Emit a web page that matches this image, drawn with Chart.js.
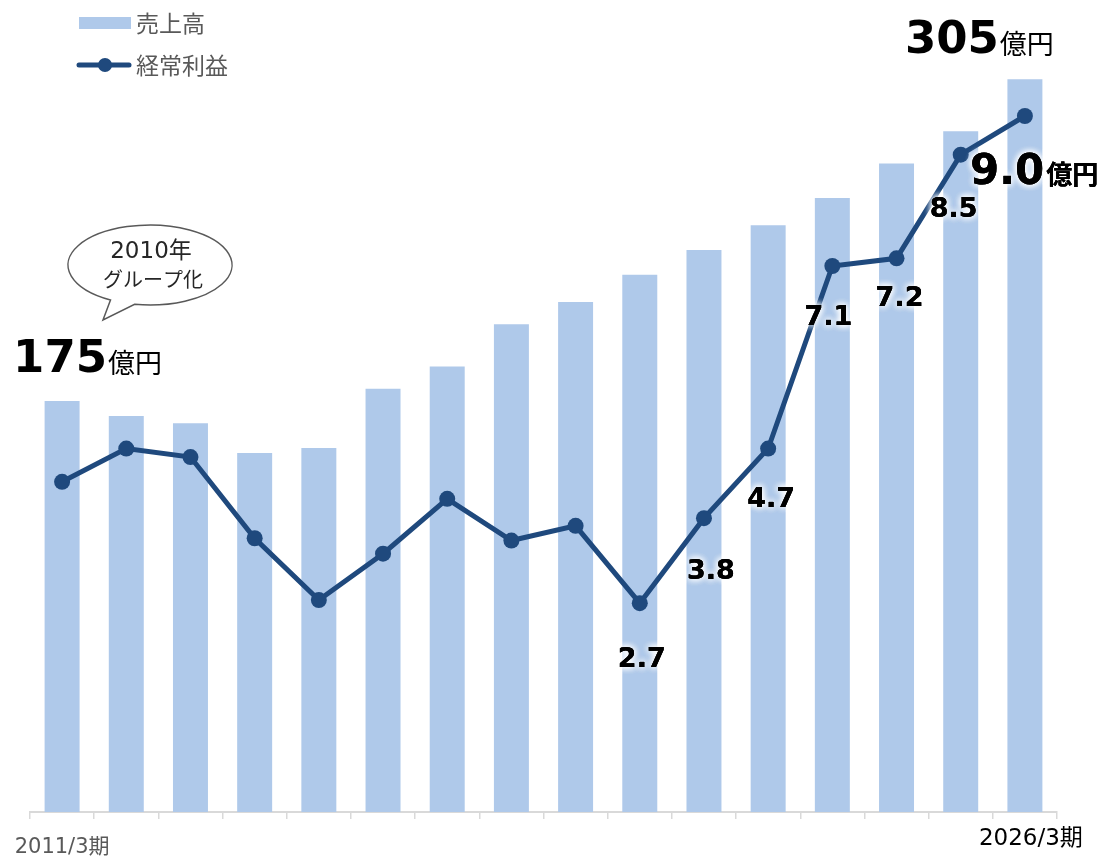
<!DOCTYPE html>
<html lang="ja">
<head>
<meta charset="utf-8">
<title>売上高・経常利益</title>
<script src="https://cdn.jsdelivr.net/npm/chart.js@4/dist/chart.umd.min.js"></script>
<style>
  html, body { margin: 0; padding: 0; background: #fff; }
  canvas { display: block; }
</style>
</head>
<body>
<canvas id="chart" width="1101" height="857"></canvas>
<script>
const periods = ["2011/3期", "2012/3期", "2013/3期", "2014/3期", "2015/3期", "2016/3期", "2017/3期", "2018/3期",
  "2019/3期", "2020/3期", "2021/3期", "2022/3期", "2023/3期", "2024/3期", "2025/3期", "2026/3期"];
const sales = [175, 169, 166, 154, 156, 180, 189, 206, 215, 226, 236, 246, 257, 271, 284, 305];
const profit = [4.27, 4.7, 4.59, 3.54, 2.74, 3.34, 4.05, 3.51, 3.7, 2.7, 3.8, 4.7, 7.06, 7.16, 8.5, 9.0];
const labelled = [9, 10, 11, 12, 13, 14]; // points with a small value label
const seriesNames = ["売上高", "経常利益"];

const barColor = "#afc9ea";
const lineColor = "#1f497d";
const jpFont = '"DejaVu Sans", "Noto Sans CJK JP", sans-serif';
const cjk = '"Noto Sans CJK JP", sans-serif';

// small offsets of the value labels from their points (dx, dy to baseline)
const labelShift = { 9: [2, 64], 10: [7, 61], 11: [3, 58], 12: [-4, 59], 13: [3, 48], 14: [-7, 62] };

function glowText(ctx, text, x, y) {
  ctx.save();
  ctx.shadowColor = "rgba(255,255,255,1)";
  ctx.shadowBlur = 7;
  ctx.fillStyle = "#000";
  for (let i = 0; i < 3; i++) ctx.fillText(text, x, y);
  ctx.restore();
  ctx.fillText(text, x, y);
}

const annotations = {
  id: "annotations",
  afterDatasetsDraw(chart) {
    const ctx = chart.ctx;
    const x = chart.scales.x;
    const lineMeta = chart.getDatasetMeta(0);
    const barMeta = chart.getDatasetMeta(1);

    // value labels on the profit line
    ctx.save();
    ctx.textAlign = "center";
    ctx.textBaseline = "alphabetic";
    ctx.font = "bold 27px " + jpFont;
    labelled.forEach(i => {
      const p = lineMeta.data[i];
      const s = labelShift[i];
      glowText(ctx, profit[i].toFixed(1), p.x + s[0], p.y + s[1]);
    });

    // last value with unit
    const last = profit.length - 1;
    const pl = lineMeta.data[last];
    ctx.textAlign = "left";
    ctx.font = "bold 42px " + jpFont;
    const numTxt = profit[last].toFixed(1);
    glowText(ctx, numTxt, pl.x - 55, pl.y + 68);
    const w = ctx.measureText(numTxt).width;
    ctx.font = "bold 26px " + cjk;
    glowText(ctx, "億円", pl.x - 55 + w + 2, pl.y + 68);
    ctx.restore();

    // sales first / last
    ctx.save();
    ctx.fillStyle = "#000";
    ctx.textAlign = "left";
    const b0 = barMeta.data[0];
    const bl = barMeta.data[sales.length - 1];
    [[b0, sales[0], -49, -29], [bl, sales[sales.length - 1], -120, -26]].forEach(([b, v, dx, dy]) => {
      ctx.font = "bold 45px " + jpFont;
      const t = String(v);
      ctx.fillText(t, b.x + dx, b.y + dy);
      const tw = ctx.measureText(t).width;
      ctx.font = "27px " + cjk;
      ctx.fillText("億円", b.x + dx + tw + 1, b.y + dy + 1);
    });
    ctx.restore();

    // speech bubble
    ctx.save();
    const cx = 150, cy = 265;
    ctx.fillStyle = "#fff";
    ctx.strokeStyle = "#595959";
    ctx.lineWidth = 1.5;
    ctx.beginPath();
    const a1 = Math.PI * 0.56, a2 = Math.PI * 0.66;
    ctx.ellipse(cx, cy, 82, 40, 0, a2, a1 + Math.PI * 2, false);
    ctx.lineTo(103, 320);
    ctx.closePath();
    ctx.fill();
    ctx.stroke();
    ctx.fillStyle = "#262626";
    ctx.textAlign = "center";
    ctx.font = "23px " + jpFont;
    ctx.fillText("2010年", cx + 1, 258);
    ctx.font = "20px " + cjk;
    ctx.fillText("グループ化", cx + 3, 287);
    ctx.restore();

    // category labels at both ends
    ctx.save();
    ctx.textAlign = "center";
    ctx.font = "21px " + jpFont;
    ctx.fillStyle = "#595959";
    ctx.fillText(periods[0], x.getPixelForValue(0), 853);
    ctx.font = "23px " + jpFont;
    ctx.fillStyle = "#000";
    ctx.fillText(periods[periods.length - 1], x.getPixelForValue(periods.length - 1) + 6, 845);
    ctx.restore();

    // legend
    ctx.save();
    ctx.fillStyle = barColor;
    ctx.fillRect(79, 17, 52, 12);
    ctx.strokeStyle = lineColor;
    ctx.lineWidth = 5;
    ctx.lineCap = "round";
    ctx.beginPath();
    ctx.moveTo(79, 65);
    ctx.lineTo(129, 65);
    ctx.stroke();
    ctx.fillStyle = lineColor;
    ctx.beginPath();
    ctx.arc(105, 65, 7, 0, Math.PI * 2);
    ctx.fill();
    ctx.fillStyle = "#595959";
    ctx.font = "23px " + cjk;
    ctx.textBaseline = "middle";
    ctx.textAlign = "left";
    ctx.fillText(seriesNames[0], 136, 23);
    ctx.fillText(seriesNames[1], 136, 65);
    ctx.restore();
  }
};

new Chart(document.getElementById("chart"), {
  data: {
    labels: periods,
    datasets: [
      {
        type: "line",
        label: seriesNames[1],
        data: profit,
        yAxisID: "y1",
        borderColor: lineColor,
        backgroundColor: lineColor,
        borderWidth: 5,
        pointRadius: 8,
        pointBackgroundColor: lineColor,
        pointBorderWidth: 0,
        tension: 0,
        order: 0
      },
      {
        type: "bar",
        label: seriesNames[0],
        data: sales,
        yAxisID: "y",
        backgroundColor: barColor,
        categoryPercentage: 1,
        barPercentage: 0.545,
        order: 1
      }
    ]
  },
  options: {
    responsive: false,
    animation: false,
    layout: { autoPadding: false, padding: { left: 30, right: 44, top: 0, bottom: 38 } },
    plugins: {
      legend: { display: false },
      tooltip: { enabled: false }
    },
    scales: {
      x: {
        grid: {
          display: true,
          drawOnChartArea: false,
          drawTicks: true,
          tickLength: 7,
          color: "#d9d9d9",
          lineWidth: 1.5
        },
        border: { color: "#d9d9d9", width: 2 },
        ticks: { display: false }
      },
      y: { display: false, min: 9, max: 337 },
      y1: { display: false, min: 0, max: 10.5 }
    }
  },
  plugins: [annotations]
});
</script>
</body>
</html>
